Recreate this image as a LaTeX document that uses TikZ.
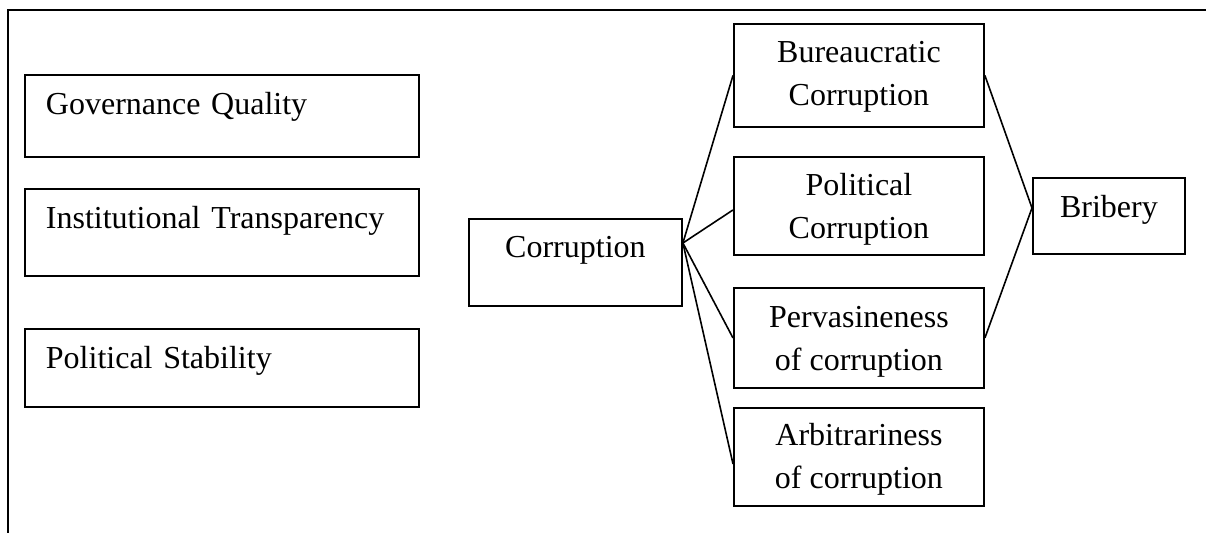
\documentclass[tikz,border=0pt]{standalone}
\usepackage{fontspec}
\setmainfont{Liberation Serif}
\usetikzlibrary{calc}
\begin{document}
\begin{tikzpicture}[x=0.5pt,y=-0.5pt,
  box/.style={draw,line width=0.95pt,inner sep=0pt,anchor=north west,
    font=\fontsize{16}{21.75}\selectfont},
  leftbox/.style={box,align=left,text width=176pt,inner xsep=10.5pt,inner ysep=0pt},
  midbox/.style={box,align=center,minimum width=125pt},
  link/.style={line width=0.8pt}]
\useasboundingbox (0,0) rectangle (1206,532);
\clip (0,0) rectangle (1206,532);
\coordinate (fbl) at (8,545);
\coordinate (ftl) at (8,10);
\coordinate (ftr) at (1215,10);
\draw[line width=1.1pt] (fbl) -- (ftl) -- (ftr);
% left column
\node[leftbox,text height=20pt,text depth=21pt] (gq) at (24,74) {Governance Quality};
\node[leftbox,text height=20pt,text depth=23.5pt] (it) at (24,188) {Institutional Transparency};
\node[leftbox,text height=20pt,text depth=19pt] (ps) at (24,328) {Political Stability};
% centre
\node[box,align=center,minimum width=106.5pt,text height=19.5pt,text depth=24pt] (corr) at (468,218) {Corruption};
% right column
\node[midbox,text height=41pt,text depth=10.5pt] (bur) at (733,23) {Bureaucratic\\Corruption};
\node[midbox,text height=41pt,text depth=8pt] (pol) at (733,156) {Political\\Corruption};
\node[midbox,text height=41.5pt,text depth=8.5pt] (per) at (733,287) {Pervasineness\\of corruption};
\node[midbox,text height=40.5pt,text depth=8.5pt] (arb) at (733,407) {Arbitrariness\\of corruption};
\node[box,align=center,minimum width=76pt,text height=20pt,text depth=18pt] (bri) at (1032,177) {Bribery};
% connectors
\coordinate (cj) at ($(corr.north east)+(0,25)$);
\coordinate (polin) at ($(pol.west)+(0,4)$);
\coordinate (arbin) at ($(arb.west)+(0,7)$);
\coordinate (briin) at ($(bri.west)+(0,-8)$);
\draw[link] (cj) -- (bur.west);
\draw[link] (cj) -- (polin);
\draw[link] (cj) -- (per.west);
\draw[link] (cj) -- (arbin);
\draw[link] (bur.east) -- (briin);
\draw[link] (per.east) -- (briin);
\end{tikzpicture}
\end{document}
